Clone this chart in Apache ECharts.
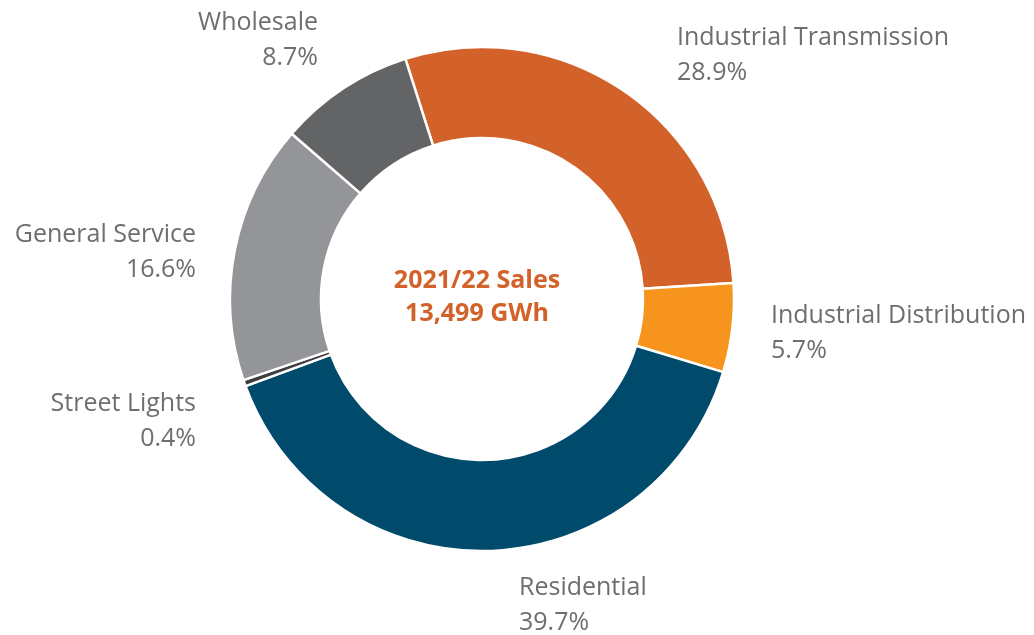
<!DOCTYPE html>
<html>
<head>
<meta charset="utf-8">
<script src="https://cdn.jsdelivr.net/npm/echarts@6/dist/echarts.min.js"></script>
<style>
  html, body { margin: 0; padding: 0; background: #fff; }
  #chart { width: 1034px; height: 635px; }
</style>
</head>
<body>
<div id="chart"></div>
<script>
// sales share by customer class, clockwise from the top
const categories = ["Industrial Transmission", "Industrial Distribution", "Residential", "Street Lights", "General Service", "Wholesale"];
const shares = [28.9, 5.7, 39.7, 0.4, 16.6, 8.7];
const colors = ["#D2622A", "#F7941D", "#004B6B", "#3E3E40", "#939598", "#636466"];

// where each label sits (middle of the two-line block)
const labelPos = {
  "Industrial Transmission": { x: 677, y: 55, align: "left" },
  "Industrial Distribution": { x: 771, y: 333, align: "left" },
  "Residential": { x: 519, y: 605, align: "left" },
  "Street Lights": { x: 196, y: 421, align: "right" },
  "General Service": { x: 196, y: 252, align: "right" },
  "Wholesale": { x: 318, y: 40, align: "right" }
};

const chart = echarts.init(document.getElementById("chart"));

chart.setOption({
  animation: false,
  graphic: [{
    type: "text",
    x: 477,
    y: 297,
    style: {
      text: "2021/22 Sales\n13,499 GWh",
      align: "center",
      verticalAlign: "middle",
      fill: "#D2622A",
      font: "bold 25px 'Open Sans'",
      lineHeight: 33
    }
  }],
  series: [{
    type: "pie",
    center: [482, 299],
    radius: [161, 252],
    startAngle: 107.7,
    clockwise: true,
    avoidLabelOverlap: false,
    itemStyle: { borderColor: "#fff", borderWidth: 2.5 },
    label: {
      show: true,
      position: "outside",
      formatter: "{b}\n{c}%",
      color: "#6D6E71",
      fontFamily: "Open Sans",
      fontSize: 25,
      lineHeight: 35
    },
    labelLine: { show: false },
    labelLayout: function (params) {
      const p = labelPos[categories[params.dataIndex]];
      return { x: p.x, y: p.y, align: p.align, verticalAlign: "middle" };
    },
    emphasis: { disabled: true },
    data: categories.map((name, i) => ({
      name: name,
      value: shares[i],
      itemStyle: { color: colors[i] },
      label: { align: labelPos[name].align }
    }))
  }]
});
</script>
</body>
</html>
